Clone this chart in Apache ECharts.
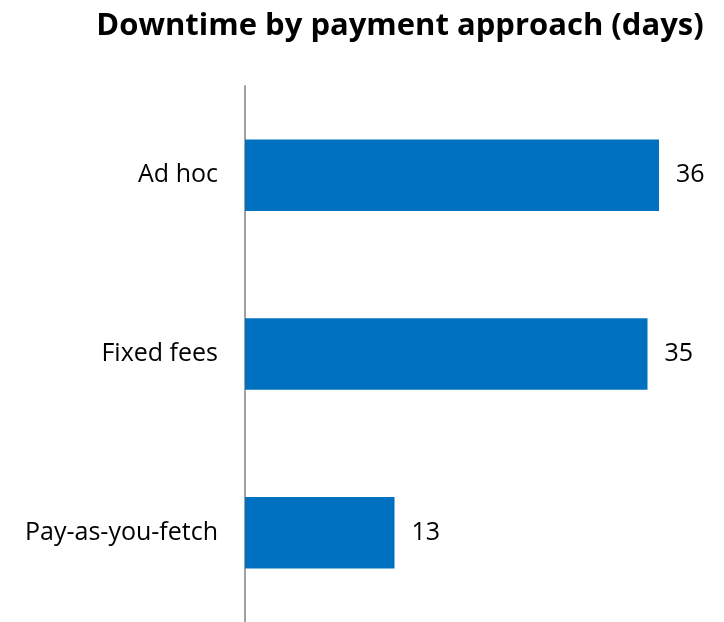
<!DOCTYPE html>
<html>
<head>
<meta charset="utf-8">
<script src="https://cdn.jsdelivr.net/npm/echarts@6/dist/echarts.min.js"></script>
<style>
  html, body { margin: 0; padding: 0; background: #fff; }
  #chart { width: 724px; height: 622px; }
</style>
</head>
<body>
<div id="chart"></div>
<script>
// Payment approaches, listed top to bottom
const categories = ['Ad hoc', 'Fixed fees', 'Pay-as-you-fetch'];
// Downtime in days for each approach
const downtimeDays = [36, 35, 13];

const chart = echarts.init(document.getElementById('chart'));
const fontFamily = '"Open Sans", Lato, sans-serif';

chart.setOption({
  backgroundColor: '#ffffff',
  animation: false,
  title: {
    text: 'Downtime by payment approach (days)',
    left: 395,
    textAlign: 'center',
    top: 6,
    textStyle: { fontFamily, fontSize: 31, fontWeight: 'bold', color: '#000' }
  },
  grid: { left: 245, top: 86, width: 460, bottom: 0, containLabel: false },
  xAxis: {
    type: 'value',
    min: 0,
    max: 40,
    show: false
  },
  yAxis: {
    type: 'category',
    data: categories,
    inverse: true,
    axisLine: { show: true, lineStyle: { color: '#A0A0A0', width: 2 } },
    axisTick: { show: false },
    splitLine: { show: false },
    axisLabel: { margin: 27, fontFamily, fontSize: 25, color: '#000' }
  },
  series: [{
    type: 'bar',
    data: downtimeDays,
    barCategoryGap: '60%',
    itemStyle: { color: '#0070C0' },
    label: {
      show: true,
      position: 'right',
      distance: 17,
      fontFamily,
      fontSize: 25,
      color: '#000'
    }
  }]
});
</script>
</body>
</html>
